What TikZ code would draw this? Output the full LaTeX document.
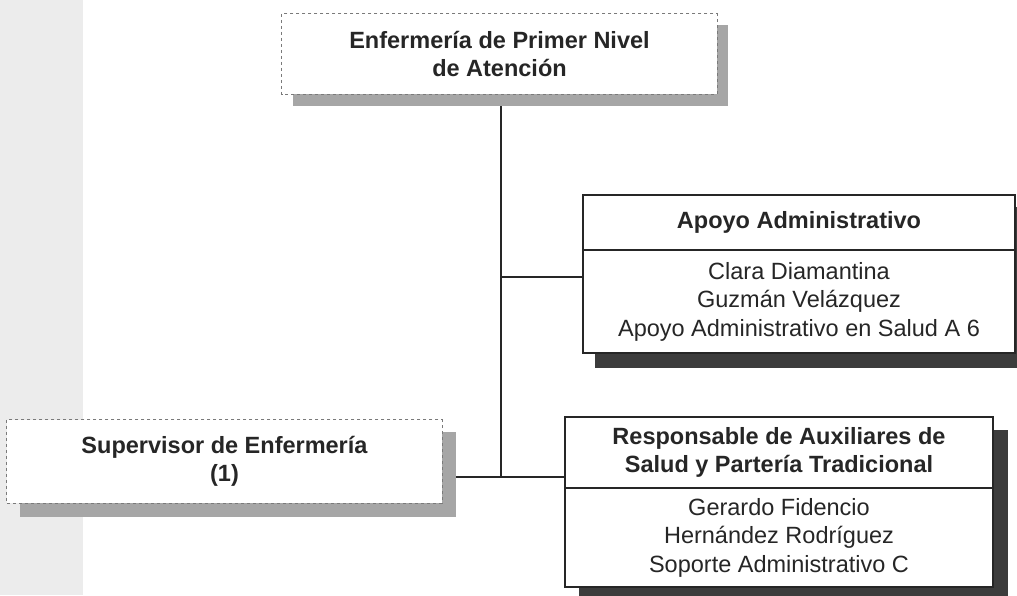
\documentclass[tikz,border=0pt]{standalone}
\usepackage{fontspec}
\setmainfont{Liberation Sans}
\usetikzlibrary{calc}
\definecolor{ink}{HTML}{262626}
\definecolor{strip}{HTML}{ECECEC}
\definecolor{lightshadow}{HTML}{A6A6A6}
\definecolor{darkshadow}{HTML}{3C3C3C}
\definecolor{dashgray}{HTML}{7A7A7A}
\tikzset{
  txt/.style={font=\fontsize{23.5}{28.5}\selectfont, text=ink, align=center, inner sep=0pt},
  boldtxt/.style={txt, font=\fontsize{23.5}{28.5}\selectfont\bfseries},
  dashbox/.style={draw=dashgray, line width=0.8pt, dash pattern=on 3pt off 3pt, fill=white},
  solidbox/.style={draw=ink, line width=1.5pt, fill=white},
  link/.style={draw=ink, line width=1.5pt},
  softshadow/.style={fill=lightshadow},
  hardshadow/.style={fill=darkshadow}
}
\begin{document}
\begin{tikzpicture}[x=1pt,y=-1pt]
\clip (0,0) rectangle (1017,595);
\fill[white] (0,0) rectangle (1017,595);
\fill[strip] (0,0) rectangle (83,595);

% junction coordinates
\coordinate (j) at (501,477);
\coordinate (ja) at (501,277);

% nodes (text placed later on top)
\path (499.5,54) node[minimum width=435pt, minimum height=80pt, inner sep=0pt] (top) {};
\path (224.5,461.5) node[minimum width=435pt, minimum height=83pt, inner sep=0pt] (sup) {};
\path (799,222.5) node[minimum width=432pt, minimum height=55pt, inner sep=0pt] (apoyoH) {};
\path (799,301.5) node[minimum width=432pt, minimum height=103pt, inner sep=0pt] (apoyoB) {};
\path (779,452.5) node[minimum width=428pt, minimum height=71pt, inner sep=0pt] (respH) {};
\path (779,537.5) node[minimum width=428pt, minimum height=99pt, inner sep=0pt] (respB) {};

% connectors
\draw[link] (top.south -| j) -- (j);
\draw[link] (ja) -- (ja -| apoyoB.west);
\draw[link] (sup.east |- j) -- (j) -- (j -| respH.west);

% shadows
\fill[softshadow] ($(top.north west)+(11,11)$) rectangle ($(top.south east)+(11,12)$);
\fill[softshadow] ($(sup.north west)+(13,12)$) rectangle ($(sup.south east)+(14,14)$);
\fill[hardshadow] ($(apoyoH.north west)+(12,12)$) rectangle ($(apoyoB.south east)+(12,15)$);
\fill[hardshadow] ($(respH.north west)+(14,13)$) rectangle ($(respB.south east)+(15,14)$);

% boxes
\draw[dashbox] (top.north west) rectangle (top.south east);
\draw[dashbox] (sup.north west) rectangle (sup.south east);
\draw[solidbox] (apoyoH.north west) rectangle (apoyoB.south east);
\draw[link] (apoyoH.south west) -- (apoyoH.south east);
\draw[solidbox] (respH.north west) rectangle (respB.south east);
\draw[link] (respH.south west) -- (respH.south east);

% texts
\node[boldtxt] (topt) at (top) {Enfermería de Primer Nivel\\de Atención};
\node[boldtxt] (supt) at (sup) {Supervisor de Enfermería\\(1)};
\node[boldtxt] (apoyoHt) at (apoyoH) {Apoyo Administrativo};
\node[txt] (apoyoBt) at (apoyoB) {Clara Diamantina\\Guzmán Velázquez\\Apoyo Administrativo en Salud A 6};
\node[boldtxt] (respHt) at (respH) {Responsable de Auxiliares de\\Salud y Partería Tradicional};
\node[txt] (respBt) at (respB) {Gerardo Fidencio\\Hernández Rodríguez\\Soporte Administrativo C};
\end{tikzpicture}
\end{document}
